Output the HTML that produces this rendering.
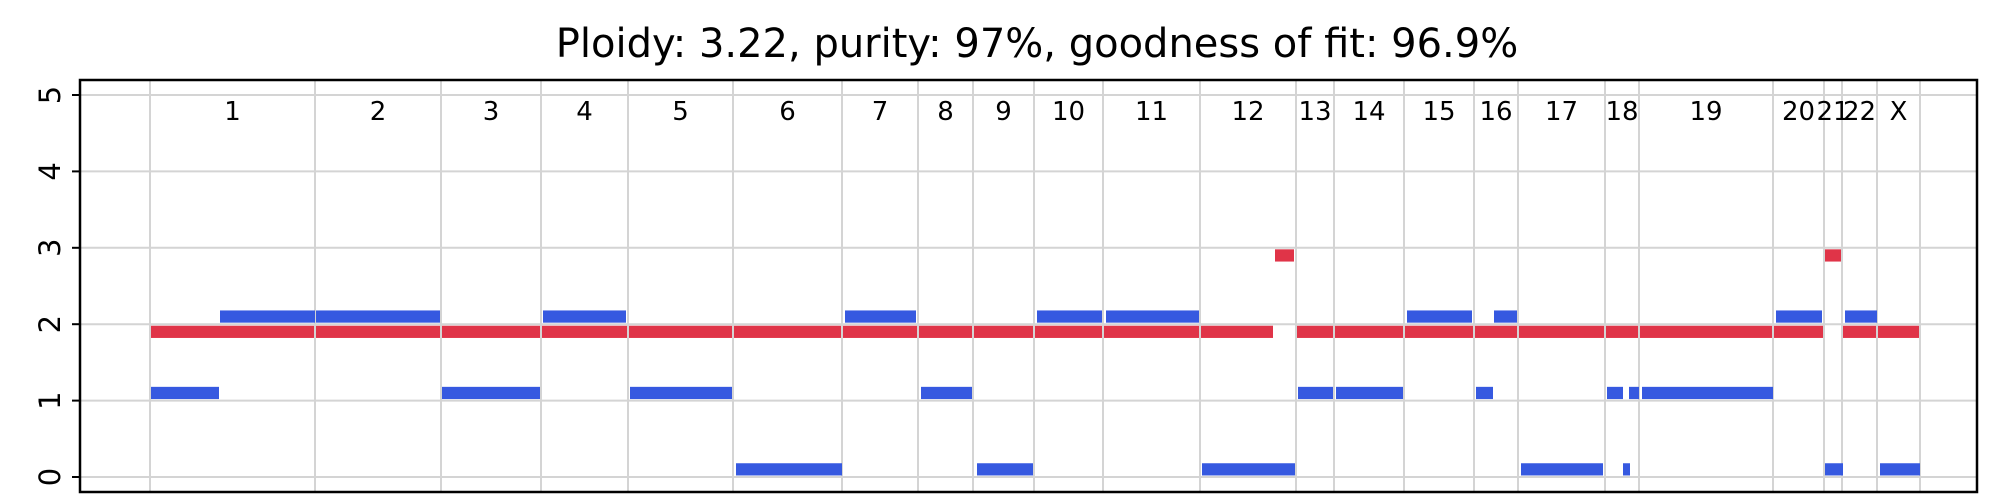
<!DOCTYPE html>
<html><head><meta charset="utf-8"><style>
html,body{margin:0;padding:0;background:#fff;}
svg{display:block;font-family:"DejaVu Sans","Liberation Sans",sans-serif;}
</style></head><body>
<svg id="chart" width="2000" height="500" viewBox="0 0 2000 500" xmlns="http://www.w3.org/2000/svg">
<text x="1037" y="57" font-size="40" text-anchor="middle" fill="#000">Ploidy: 3.22, purity: 97%, goodness of fit: 96.9%</text>
<g id="grid"></g><g id="marks"></g><g id="axes"></g>
</svg>
<script>
// chromosome names and boundaries (cumulative genome position units)
const chromNames = ["1","2","3","4","5","6","7","8","9","10","11","12","13","14","15","16","17","18","19","20","21","22","X"];
const chromBounds = [0,165,291,391,478,583,692,768,823,884,953,1050,1146,1184,1254,1324,1368,1455,1489,1623,1674,1692,1727,1770];
// red segments: [start, end, copy number]
const redStart = [0,165,291,391,478,583,692,768,823,884,953,1050,1124,1146,1184,1254,1324,1368,1455,1489,1623,1674,1692,1727];
const redEnd   = [165,291,391,478,583,692,768,823,884,953,1050,1124,1145,1184,1254,1324,1368,1455,1489,1623,1674,1692,1727,1770];
const redValue = [2,2,2,2,2,2,2,2,2,2,2,2,3,2,2,2,2,2,2,2,2,3,2,2];
// blue segments
const blueStart = [0,69,165,291,392,479,585,694,770,826,886,955,1051,1147,1185,1256,1325,1343,1370,1456,1478,1472,1491,1625,1674,1694,1729];
const blueEnd   = [69,165,290,390,476,582,692,766,822,883,952,1049,1145,1183,1253,1322,1343,1367,1453,1473,1489,1480,1623,1672,1693,1727,1770];
const blueValue = [1,2,2,1,2,1,0,2,1,0,2,2,0,1,1,2,1,2,0,1,1,0,1,2,0,2,0];
const yTicks = [0,1,2,3,4,5];

const NS="http://www.w3.org/2000/svg";
const L=80,R=1977,T=80,B=492;
const xs=v=>150+v*(1920-150)/1770;
const ys=v=>477-v*76.4;
function mk(tag,attrs,parent){const e=document.createElementNS(NS,tag);for(const k in attrs)e.setAttribute(k,attrs[k]);parent.appendChild(e);return e;}
const grid=document.getElementById('grid'),marks=document.getElementById('marks'),axes=document.getElementById('axes');

yTicks.forEach(t=>{
  const l=mk('line',{x1:L,x2:R,y1:ys(t),y2:ys(t),stroke:'#d4d4d4','stroke-width':2},grid);
  
  
  const tk=mk('line',{x1:L-8,x2:L,y1:ys(t),y2:ys(t),stroke:'#000','stroke-width':2},axes);
  
  
  const tx=mk('text',{x:0,y:0,'font-size':29,'text-anchor':'middle',transform:`translate(${L-20},${ys(t)}) rotate(-90)`},axes);
  tx.textContent=t;
  
  
});
chromBounds.forEach(b=>{
  const l=mk('line',{x1:xs(b),x2:xs(b),y1:T,y2:B,stroke:'#d4d4d4','stroke-width':2},grid);
  
  
});
chromNames.forEach((n,i)=>{
  const tx=mk('text',{x:(xs(chromBounds[i])+xs(chromBounds[i+1]))/2,y:120,'font-size':26,'text-anchor':'middle',fill:'#000'},axes);
  tx.textContent=n;
  
  
});
redValue.forEach((v,i)=>{
  const r=mk('rect',{x:xs(redStart[i])+1,y:ys(v-0.02),width:Math.max(1,xs(redEnd[i])-xs(redStart[i])-2),height:ys(v-0.18)-ys(v-0.02),fill:'#e03448'},marks);
  
  
});
blueValue.forEach((v,i)=>{
  const r=mk('rect',{x:xs(blueStart[i])+1,y:ys(v+0.18),width:Math.max(1,xs(blueEnd[i])-xs(blueStart[i])-1),height:ys(v+0.02)-ys(v+0.18),fill:'#3659e0'},marks);
  
  
});
const f=mk('rect',{x:L,y:T,width:R-L,height:B-T,fill:'none',stroke:'#000','stroke-width':2.5},axes);


</script>
</body></html>
